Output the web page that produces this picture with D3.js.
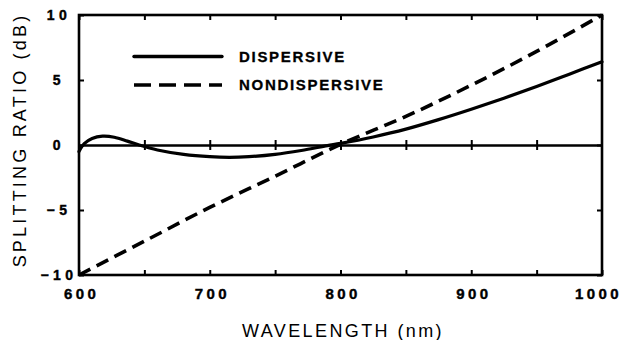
<!DOCTYPE html>
<html><head><meta charset="utf-8">
<script src="https://cdn.jsdelivr.net/npm/d3@7"></script>
<style>body{margin:0;background:#fff}svg{display:block}</style>
</head><body><svg id="c" width="627" height="340"></svg>
<script>
// ---- data ----
const dispWavelength = [600,604,610,618,627,637,646,660,680,700,715,730,750,770,790,800,825,850,875,900,925,950,975,1000];
const dispValues     = [-0.5,0.1,0.5,0.68,0.6,0.3,0.0,-0.38,-0.72,-0.9,-0.95,-0.9,-0.72,-0.42,-0.05,0.12,0.62,1.22,1.95,2.75,3.6,4.5,5.45,6.4];
const nondispWavelength = [600,650,700,750,800,850,900,950,1000];
const nondispValues     = [-10,-7.4,-4.8,-2.4,0.05,2.2,4.6,7.2,10];
const xTickLabels = [600,700,800,900,1000];
const xTickAll = [600,650,700,750,800,850,900,950,1000];
const yTickLabels = [-10,-5,0,5,10];
const seriesNames = ["DISPERSIVE","NONDISPERSIVE"];
const xTitle = "WAVELENGTH (nm)";
const yTitle = "SPLITTING RATIO (dB)";

// ---- layout ----
const svg = d3.select("#c");
const L=79,R=602,T=15,B=275;
const x = d3.scaleLinear().domain([600,1000]).range([L,R]);
const y = d3.scaleLinear().domain([-10,10]).range([B,T]);
const font = "'Liberation Sans', Arial, Helvetica, sans-serif";

// zero line with ticks crossing it
const zeroUp = d3.axisBottom(x).tickValues(xTickAll.slice(1,-1)).tickSize(-5).tickSizeOuter(0).tickFormat("");
const zeroDn = d3.axisBottom(x).tickValues(xTickAll.slice(1,-1)).tickSize(5).tickSizeOuter(0).tickFormat("");
[zeroUp,zeroDn].forEach(a=>{
  const g = svg.append("g").attr("transform",`translate(0,${y(0)})`).call(a);
  g.select(".domain").attr("stroke","#000").attr("stroke-width",2.2);
  g.selectAll(".tick line").attr("stroke","#000").attr("stroke-width",2);
});

// bottom axis (inward ticks + labels)
const gb = svg.append("g").attr("transform",`translate(0,${B})`)
  .call(d3.axisBottom(x).tickValues(xTickAll).tickSize(-5).tickSizeOuter(0).tickPadding(13)
    .tickFormat(d=> xTickLabels.includes(d)? d : ""));
gb.select(".domain").remove();
gb.selectAll(".tick line").attr("stroke","#000").attr("stroke-width",2);
gb.selectAll(".tick text").attr("font-family",font).attr("font-weight","bold")
  .attr("font-size",15).attr("letter-spacing","3.4px").attr("fill","#000")
  .attr("stroke","#000").attr("stroke-width",0.4)
  .attr("dx",d=> d===1000 ? "-4" : "2");

// top axis (inward ticks)
const gt = svg.append("g").attr("transform",`translate(0,${T})`)
  .call(d3.axisTop(x).tickValues(xTickAll).tickSize(-5).tickSizeOuter(0).tickFormat(""));
gt.select(".domain").remove();
gt.selectAll(".tick line").attr("stroke","#000").attr("stroke-width",2);

// left axis
const gl = svg.append("g").attr("transform",`translate(${L},0)`)
  .call(d3.axisLeft(y).tickValues(yTickLabels).tickSize(-5).tickSizeOuter(0));
gl.select(".domain").remove();
gl.selectAll(".tick line").attr("stroke","#000").attr("stroke-width",2);
gl.selectAll(".tick text").attr("font-family",font).attr("font-weight","bold")
  .attr("font-size",14).attr("letter-spacing","4.5px").attr("text-anchor","middle")
  .attr("stroke","#000").attr("stroke-width",0.4)
  .attr("x",-22).attr("dx","2").attr("fill","#000");

// right axis (inward ticks)
const gr = svg.append("g").attr("transform",`translate(${R},0)`)
  .call(d3.axisRight(y).tickValues(yTickLabels).tickSize(-5).tickSizeOuter(0).tickFormat(""));
gr.select(".domain").remove();
gr.selectAll(".tick line").attr("stroke","#000").attr("stroke-width",2);

// frame
svg.append("rect").attr("x",L).attr("y",T).attr("width",R-L).attr("height",B-T)
  .attr("fill","none").attr("stroke","#000").attr("stroke-width",2.6);

// curves
const line = d3.line().x(d=>x(d[0])).y(d=>y(d[1])).curve(d3.curveCatmullRom.alpha(0.5));
svg.append("clipPath").attr("id","pc").append("rect")
  .attr("x",L-2).attr("y",T-2).attr("width",R-L+4).attr("height",B-T+4);
svg.append("path").datum(dispWavelength.map((w,i)=>[w,dispValues[i]]))
  .attr("d",line).attr("fill","none").attr("stroke","#000").attr("stroke-width",3.2)
  .attr("stroke-linecap","round").attr("clip-path","url(#pc)");
svg.append("path").datum(nondispWavelength.map((w,i)=>[w,nondispValues[i]]))
  .attr("d",line).attr("fill","none").attr("stroke","#000").attr("stroke-width",3.6)
  .attr("stroke-dasharray","13,7").attr("clip-path","url(#pc)");

// legend
const lg = svg.append("g");
const legY = [56.5, 85];
lg.append("line").attr("x1",134).attr("x2",222).attr("y1",legY[0]).attr("y2",legY[0])
  .attr("stroke","#000").attr("stroke-width",3.4).attr("stroke-linecap","round");
lg.append("line").attr("x1",134).attr("x2",222).attr("y1",legY[1]).attr("y2",legY[1])
  .attr("stroke","#000").attr("stroke-width",3.6).attr("stroke-dasharray","17,8");
seriesNames.forEach((n,i)=>{
  lg.append("text").attr("x",239).attr("y",legY[i]+5.3).text(n)
    .attr("font-family",font).attr("font-weight","bold").attr("font-size",15)
    .attr("letter-spacing","1.7px").attr("fill","#000")
    .attr("stroke","#000").attr("stroke-width",0.3);
});

// axis titles
svg.append("text").attr("x",343).attr("y",337).attr("text-anchor","middle").text(xTitle)
  .attr("font-family",font).attr("font-size",18).attr("letter-spacing","2.4px").attr("fill","#000");
svg.append("text").attr("transform","translate(26,140) rotate(-90)").attr("text-anchor","middle").text(yTitle)
  .attr("font-family",font).attr("font-size",18).attr("letter-spacing","3.2px").attr("fill","#000");
</script></body></html>
